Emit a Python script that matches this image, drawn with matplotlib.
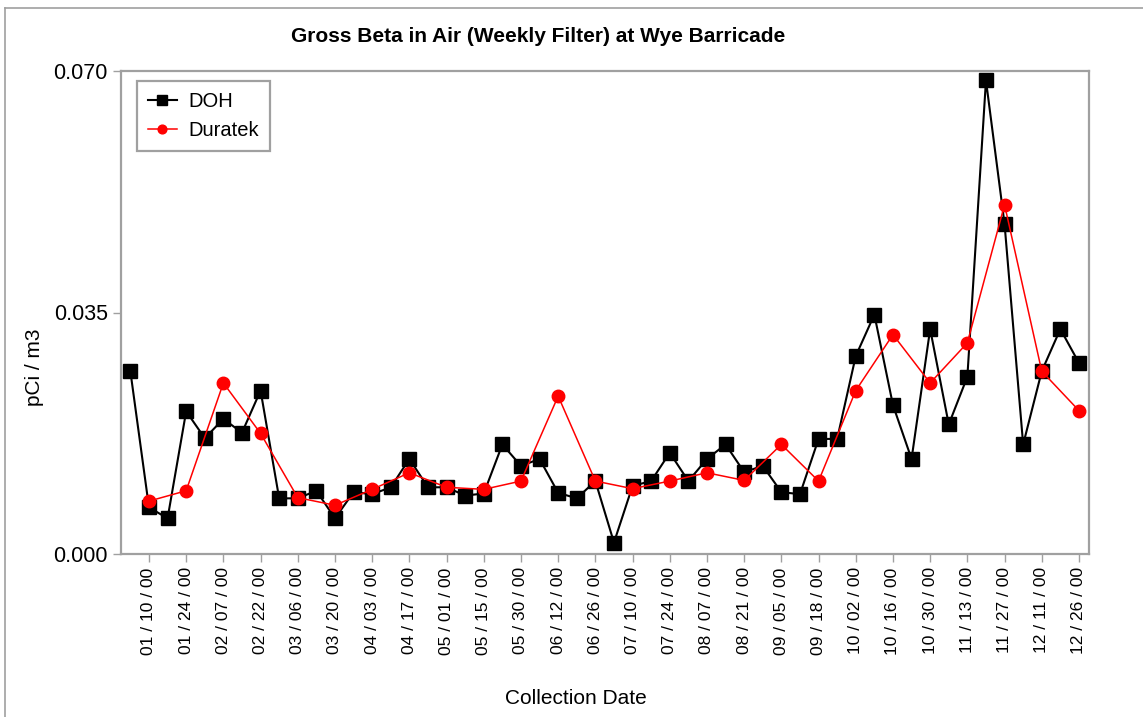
import numpy as np
import matplotlib
matplotlib.use("Agg")
import matplotlib.pyplot as plt
from matplotlib.lines import Line2D

plt.rcParams['font.family'] = ['Liberation Sans', 'DejaVu Sans']

# ---- data ----
tick_labels = ["01 / 10 / 00", "01 / 24 / 00", "02 / 07 / 00", "02 / 22 / 00",
               "03 / 06 / 00", "03 / 20 / 00", "04 / 03 / 00", "04 / 17 / 00",
               "05 / 01 / 00", "05 / 15 / 00", "05 / 30 / 00", "06 / 12 / 00",
               "06 / 26 / 00", "07 / 10 / 00", "07 / 24 / 00", "08 / 07 / 00",
               "08 / 21 / 00", "09 / 05 / 00", "09 / 18 / 00", "10 / 02 / 00",
               "10 / 16 / 00", "10 / 30 / 00", "11 / 13 / 00", "11 / 27 / 00",
               "12 / 11 / 00", "12 / 26 / 00"]

doh = [0.0265, 0.0068, 0.0052, 0.0207, 0.0168, 0.0196, 0.0176, 0.0237,
       0.0081, 0.0081, 0.0092, 0.0052, 0.0090, 0.0087, 0.0097, 0.0138,
       0.0097, 0.0097, 0.0085, 0.0088, 0.0159, 0.0128, 0.0138, 0.0089,
       0.0081, 0.0106, 0.0017, 0.0099, 0.0106, 0.0147, 0.0106, 0.0138,
       0.0159, 0.0119, 0.0128, 0.0090, 0.0087, 0.0167, 0.0167, 0.0287,
       0.0347, 0.0216, 0.0138, 0.0326, 0.0188, 0.0257, 0.0686, 0.0478,
       0.0159, 0.0265, 0.0326, 0.0277]

duratek = [0.0077, 0.0092, 0.0248, 0.0175, 0.0082, 0.0071, 0.0094, 0.0118,
           0.0097, 0.0094, 0.0106, 0.0229, 0.0106, 0.0095, 0.0106, 0.0118,
           0.0107, 0.0159, 0.0106, 0.0237, 0.0318, 0.0248, 0.0306, 0.0506,
           0.0265, 0.0208]

y_ticks = [0.000, 0.035, 0.070]
y_tick_labels = ["0.000", "0.035", "0.070"]

# weekly positions (DOH every week, Duratek every other week on labelled dates)
doh_x = np.arange(len(doh))
dur_x = np.arange(1, len(doh), 2)

W, H = 1143, 717
fig = plt.figure(figsize=(W / 100, H / 100), dpi=100)
fig.patch.set_facecolor('white')

gray = '#a0a0a0'

# outer frame (left and top only visible)
fig.add_artist(Line2D([4.5 / W, 4.5 / W], [0, 1 - 8 / H], transform=fig.transFigure,
                      color=gray, lw=1.2))
fig.add_artist(Line2D([4.5 / W, 1], [1 - 8 / H, 1 - 8 / H], transform=fig.transFigure,
                      color=gray, lw=1.2))

left, right, top, bottom = 120.7, 1089, 70.7, 554.3
ax = fig.add_axes([left / W, 1 - bottom / H, (right - left) / W, (bottom - top) / H])

ax.plot(doh_x, doh, color='black', lw=1.5, marker='s', markersize=10,
        markerfacecolor='black', markeredgecolor='black', label='DOH', zorder=3)
ax.plot(dur_x, duratek, color='#ff0000', lw=1.1, marker='o', markersize=9,
        markerfacecolor='#ff0000', markeredgecolor='#ff0000', label='Duratek', zorder=4)

ax.set_xlim(-0.52, 51.54)
ax.set_ylim(0, 0.070)
ax.set_yticks(y_ticks)
ax.set_yticklabels(y_tick_labels)
ax.set_xticks(dur_x)
ax.set_xticklabels(tick_labels, rotation=90)

for s in ax.spines.values():
    s.set_color(gray)
    s.set_linewidth(1.6)

ax.tick_params(axis='y', direction='out', length=5.8, width=1, color=gray,
               labelsize=15.5, pad=3.6, labelcolor='black')
ax.tick_params(axis='x', direction='out', length=5.8, width=1, color=gray,
               labelsize=12.5, pad=3.6, labelcolor='black')

leg = ax.legend(loc='upper left', bbox_to_anchor=(0.0165, 0.9793), borderaxespad=0,
                fancybox=False, framealpha=1, edgecolor=gray, fontsize=14.5,
                markerscale=0.7, handlelength=1.45, handletextpad=0.55,
                labelspacing=0.5, borderpad=0.55)
leg.get_frame().set_linewidth(1.6)

fig.text(538.5 / W, 1 - 37 / H, "Gross Beta in Air (Weekly Filter) at Wye Barricade",
         ha='center', va='center', fontsize=15, fontweight='bold')
fig.text(34 / W, 1 - 367 / H, "pCi / m3", ha='center', va='center', rotation=90,
         fontsize=15)
fig.text(576 / W, 1 - 698 / H, "Collection Date", ha='center', va='center',
         fontsize=15)

fig.savefig("out.png", dpi=100, facecolor='white')
